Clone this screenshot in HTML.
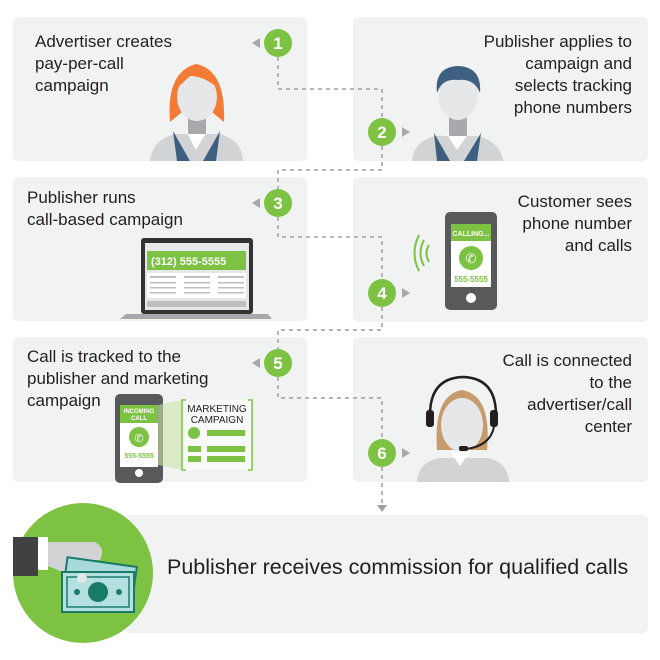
<!DOCTYPE html>
<html><head><meta charset="utf-8"><style>
html,body{margin:0;padding:0;background:#fff;}
svg{display:block;}
text{font-family:"Liberation Sans",sans-serif;fill:#231f20;}
</style></head><body>
<svg width="660" height="660" viewBox="0 0 660 660" xmlns="http://www.w3.org/2000/svg">
<g fill="#f1f2f2">
<rect x="13" y="17" width="294" height="144" rx="5"/>
<rect x="353" y="17" width="295" height="144" rx="5"/>
<rect x="13" y="177" width="294" height="144" rx="5"/>
<rect x="353" y="177" width="295" height="145" rx="5"/>
<rect x="13" y="337" width="294" height="145" rx="5"/>
<rect x="353" y="337" width="295" height="145" rx="5"/>
<rect x="125" y="515" width="523" height="118" rx="5"/>
</g>
<path d="M278 57 V89 H382 V118 M382 146 V170 H278 V189 M278 217 V237 H382 V279 M382 307 V330 H278 V349 M278 377 V398 H382 V439 M382 467 V505" fill="none" stroke="#9d9fa2" stroke-width="1.5" stroke-dasharray="4,4"/>
<polygon points="377,505 387,505 382,512" fill="#9d9fa2"/>
<g fill="#a7a9ac">
<polygon points="252,43 260,38 260,48"/>
<polygon points="252,203 260,198 260,208"/>
<polygon points="252,363 260,358 260,368"/>
<polygon points="410,132 402,127 402,137"/>
<polygon points="410,293 402,288 402,298"/>
<polygon points="410,453 402,448 402,458"/>
</g>
<g fill="#7dc242">
<circle cx="278" cy="43" r="14"/><circle cx="382" cy="132" r="14"/>
<circle cx="278" cy="203" r="14"/><circle cx="382" cy="293" r="14"/>
<circle cx="278" cy="363" r="14"/><circle cx="382" cy="453" r="14"/>
</g>
<g font-size="17" font-weight="bold" text-anchor="middle">
<text x="278" y="49" style="fill:#fff">1</text><text x="382" y="138" style="fill:#fff">2</text>
<text x="278" y="209" style="fill:#fff">3</text><text x="382" y="299" style="fill:#fff">4</text>
<text x="278" y="369" style="fill:#fff">5</text><text x="382" y="459" style="fill:#fff">6</text>
</g>
<g font-size="17">
<text x="35" y="47">Advertiser creates</text>
<text x="35" y="69">pay-per-call</text>
<text x="35" y="91">campaign</text>
<text x="27" y="203">Publisher runs</text>
<text x="27" y="225">call-based campaign</text>
<text x="27" y="362">Call is tracked to the</text>
<text x="27" y="384">publisher and marketing</text>
<text x="27" y="406">campaign</text>
</g>
<g font-size="17" text-anchor="end">
<text x="632" y="47">Publisher applies to</text>
<text x="632" y="69">campaign and</text>
<text x="632" y="91">selects tracking</text>
<text x="632" y="113">phone numbers</text>
<text x="632" y="207">Customer sees</text>
<text x="632" y="229">phone number</text>
<text x="632" y="251">and calls</text>
<text x="632" y="366">Call is connected</text>
<text x="632" y="388">to the</text>
<text x="632" y="410">advertiser/call</text>
<text x="632" y="432">center</text>
</g>
<text x="167" y="574" font-size="21.5">Publisher receives commission for qualified calls</text>
<path d="M150 161 Q152 140 175 134 L220 134 Q242 140 243 161Z" fill="#d1d3d4"/>
<path d="M173 131 L190 161 L177 161Z M220 131 L203 161 L216 161Z" fill="#3e5f7f"/>
<path d="M186 131 L196 150 L207 131Z" fill="#fff"/>
<rect x="188" y="116" width="18" height="18" fill="#a7a9ac"/>
<path d="M170 122 Q166 72 196 64 Q226 70 224 122 L212 112 L182 112Z" fill="#f47b36"/>
<ellipse cx="197" cy="97" rx="20" ry="24" fill="#e6e7e8"/>
<path d="M175 90 Q182 70 200 66 Q210 72 220 90 Q205 76 190 76Z" fill="#f47b36"/>
<path d="M412 161 Q413 142 435 136 L478 136 Q500 142 503 161Z" fill="#d1d3d4"/>
<path d="M434 133 L450 161 L437 161Z M481 133 L464 161 L477 161Z" fill="#3e5f7f"/>
<path d="M446 133 L457 150 L469 133Z" fill="#fff"/>
<rect x="449" y="116" width="18" height="20" fill="#a7a9ac"/>
<ellipse cx="458" cy="94" rx="20" ry="26" fill="#e6e7e8"/>
<path d="M437 93 Q434 67 458 66 Q482 67 480 93 Q474 78 458 80 Q442 78 437 93Z" fill="#3e5f7f"/>
<rect x="141" y="238" width="112" height="76" rx="3" fill="#333"/>
<rect x="145" y="243" width="104" height="67" fill="#e6e7e8"/>
<rect x="147" y="251" width="99" height="19" fill="#7dc242"/>
<text x="151" y="265" font-size="11" font-weight="bold" style="fill:#fff">(312) 555-5555</text>
<rect x="147" y="273" width="99" height="25" fill="#fff"/>
<g fill="#bcbec0"><rect x="150" y="276" width="26" height="2"/><rect x="184" y="276" width="26" height="2"/><rect x="218" y="276" width="26" height="2"/>
<rect x="150" y="282" width="26" height="1.5"/><rect x="184" y="282" width="26" height="1.5"/><rect x="218" y="282" width="26" height="1.5"/>
<rect x="150" y="287" width="26" height="1.5"/><rect x="184" y="287" width="26" height="1.5"/><rect x="218" y="287" width="26" height="1.5"/>
<rect x="150" y="292" width="26" height="1.5"/><rect x="184" y="292" width="26" height="1.5"/><rect x="218" y="292" width="26" height="1.5"/></g>
<rect x="147" y="301" width="99" height="6" fill="#bcbec0"/>
<path d="M126 314 H268 L272 319 H120Z" fill="#a7a9ac"/>
<rect x="445" y="212" width="52" height="98" rx="5" fill="#58595b"/>
<rect x="451" y="224" width="40" height="63" fill="#fff"/>
<rect x="451" y="224" width="40" height="17" fill="#7dc242"/>
<text x="471" y="236" font-size="7" font-weight="bold" text-anchor="middle" style="fill:#fff">CALLING...</text>
<circle cx="471" cy="258" r="12" fill="#7dc242"/>
<text x="471" y="263" font-size="13" text-anchor="middle" style="fill:#fff">✆</text>
<text x="471" y="282" font-size="8" font-weight="bold" text-anchor="middle" style="fill:#7dc242">555-5555</text>
<circle cx="471" cy="298" r="5" fill="#fff"/>
<g fill="none" stroke="#7dc242" stroke-width="2"><path d="M429 245 Q424 253 429 262"/><path d="M424 240 Q417 253 424 266"/><path d="M419 235 Q410 253 419 271"/></g>
<rect x="115" y="394" width="48" height="89" rx="5" fill="#58595b"/>
<rect x="120" y="405" width="38" height="62" fill="#fff"/>
<rect x="120" y="405" width="38" height="18" fill="#7dc242"/>
<text x="139" y="413" font-size="6" font-weight="bold" text-anchor="middle" style="fill:#fff">INCOMING</text>
<text x="139" y="420" font-size="6" font-weight="bold" text-anchor="middle" style="fill:#fff">CALL</text>
<circle cx="139" cy="437" r="10" fill="#7dc242"/>
<text x="139" y="442" font-size="11" text-anchor="middle" style="fill:#fff">✆</text>
<text x="139" y="458" font-size="7" font-weight="bold" text-anchor="middle" style="fill:#7dc242">555-5555</text>
<circle cx="139" cy="473" r="4" fill="#fff"/>
<path d="M158 405 L182 400 L182 470 L158 465Z" fill="#c9e4a8" opacity="0.6"/>
<rect x="182" y="400" width="70" height="70" fill="#fff" opacity="0.5"/>
<path d="M186 400 H182 V470 H186 M248 400 H252 V470 H248" fill="none" stroke="#7dc242" stroke-width="1.5"/>
<text x="217" y="412" font-size="10" text-anchor="middle">MARKETING</text>
<text x="217" y="423" font-size="10" text-anchor="middle">CAMPAIGN</text>
<circle cx="194" cy="433" r="6" fill="#7dc242"/>
<g fill="#7dc242"><rect x="207" y="430" width="38" height="6"/><rect x="188" y="446" width="13" height="6"/><rect x="207" y="446" width="38" height="6"/><rect x="188" y="456" width="13" height="6"/><rect x="207" y="456" width="38" height="6"/></g>
<path d="M417 482 Q418 462 440 458 L487 458 Q508 462 509 482Z" fill="#d1d3d4"/>
<path d="M450 452 L460 466 L470 452Z" fill="#fff"/>
<path d="M437 450 Q433 395 462 390 Q492 395 487 450Z" fill="#c69c6d"/>
<ellipse cx="462" cy="425" rx="21" ry="27" fill="#e6e7e8"/>
<path d="M430 415 Q430 378 463 377 Q496 378 496 415" fill="none" stroke="#231f20" stroke-width="2.5"/>
<rect x="426" y="410" width="8" height="17" rx="3" fill="#231f20"/>
<rect x="490" y="410" width="8" height="17" rx="3" fill="#231f20"/>
<path d="M494 427 Q490 446 466 449" fill="none" stroke="#231f20" stroke-width="2"/>
<rect x="459" y="446" width="9" height="5" rx="2" fill="#231f20"/>
<circle cx="83" cy="573" r="70" fill="#7dc242"/>
<path d="M13 537 H38 V576 H13Z" fill="#414042"/>
<rect x="38" y="537" width="10" height="33" fill="#fff"/>
<path d="M48 542 L95 542 Q106 548 100 560 L86 560 L82 575 L70 575 L48 566Z" fill="#d1d3d4"/>
<g transform="rotate(8 100 585)">
<rect x="64" y="562" width="70" height="38" fill="#a8dadc" stroke="#1a7a6a" stroke-width="2"/>
</g>
<rect x="62" y="572" width="72" height="40" fill="#b5e0e0" stroke="#1a7a6a" stroke-width="2"/>
<rect x="67" y="577" width="62" height="30" fill="none" stroke="#1a7a6a" stroke-width="1.5"/>
<circle cx="98" cy="592" r="10" fill="#1a7a6a"/>
<circle cx="77" cy="592" r="3" fill="#1a7a6a"/><circle cx="119" cy="592" r="3" fill="#1a7a6a"/>
<circle cx="82" cy="578" r="5" fill="#e6e7e8"/>
</svg>
</body></html>
